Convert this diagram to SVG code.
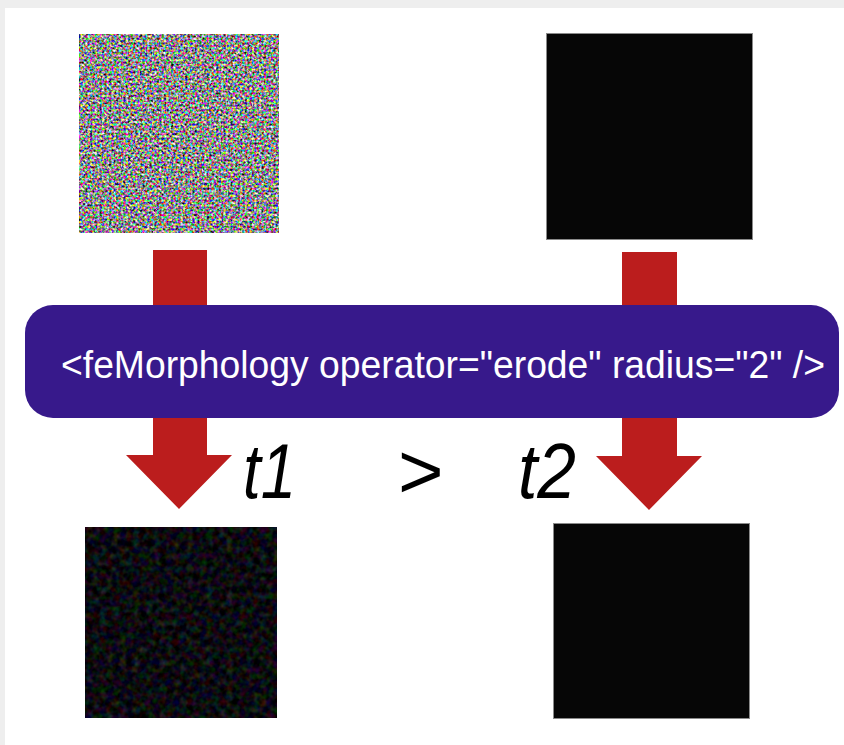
<svg xmlns="http://www.w3.org/2000/svg" width="844" height="745" viewBox="0 0 844 745">
  <style>
    .arrow { fill: #bb1d1d; }
    .black { fill: #060606; stroke: #8a8a8a; stroke-width: 1; }
    .code { font-family: "Liberation Sans", Arial, sans-serif; font-size: 38px; fill: #ffffff; }
    .lbl { font-family: "Liberation Sans", Arial, sans-serif; font-size: 78px; fill: #000000; }
  </style>
  <defs>
    <filter id="noise" filterUnits="objectBoundingBox" x="0" y="0" width="1" height="1" color-interpolation-filters="sRGB">
      <feTurbulence type="fractalNoise" baseFrequency="0.42" numOctaves="2" seed="3"/>
      <feComponentTransfer>
        <feFuncR type="linear" slope="2.3" intercept="-0.6"/>
        <feFuncG type="linear" slope="2.3" intercept="-0.6"/>
        <feFuncB type="linear" slope="2.3" intercept="-0.6"/>
        <feFuncA type="linear" slope="0" intercept="1"/>
      </feComponentTransfer>
    </filter>
    <filter id="darknoise" filterUnits="objectBoundingBox" x="0" y="0" width="1" height="1" color-interpolation-filters="sRGB">
      <feTurbulence type="fractalNoise" baseFrequency="0.15" numOctaves="2" seed="7"/>
      <feComponentTransfer>
        <feFuncR type="linear" slope="0.45" intercept="-0.18"/>
        <feFuncG type="linear" slope="0.45" intercept="-0.18"/>
        <feFuncB type="linear" slope="0.45" intercept="-0.16"/>
        <feFuncA type="linear" slope="0" intercept="1"/>
      </feComponentTransfer>
    </filter>
  </defs>

  <rect x="0" y="0" width="844" height="745" fill="#ffffff"/>
  <rect x="0" y="0" width="844" height="8" fill="#eeeeee"/>
  <rect x="0" y="0" width="5" height="745" fill="#eeeeee"/>

  <g id="connectors">
    <polygon class="arrow" points="153,250 207,250 207,455 232,455 179,509 126,455 153,455"/>
    <polygon class="arrow" points="622,252 677,252 677,456 702,456 649,510 596,456 622,456"/>
  </g>

  <g id="input-noise">
    <rect x="79" y="34" width="200" height="199" fill="#808080" filter="url(#noise)"/>
  </g>
  <g id="input-black">
    <rect class="black" x="546.5" y="33.5" width="206" height="206"/>
  </g>

  <g id="filter-box">
    <rect x="25" y="305" width="814" height="113" rx="28" ry="28" fill="#37198b"/>
    <text class="code" x="61" y="378" textLength="764" lengthAdjust="spacingAndGlyphs">&lt;feMorphology operator="erode" radius="2" /&gt;</text>
  </g>

  <g id="comparison">
    <text class="lbl" x="243" y="498" font-style="italic" textLength="53" lengthAdjust="spacingAndGlyphs">t1</text>
    <text class="lbl" x="398" y="498">&gt;</text>
    <text class="lbl" x="518" y="498" font-style="italic" textLength="58" lengthAdjust="spacingAndGlyphs">t2</text>
  </g>

  <g id="output-noise">
    <rect x="85" y="527" width="192" height="191" fill="#000000" filter="url(#darknoise)"/>
  </g>
  <g id="output-black">
    <rect class="black" x="553.5" y="523.5" width="196" height="195"/>
  </g>
</svg>
